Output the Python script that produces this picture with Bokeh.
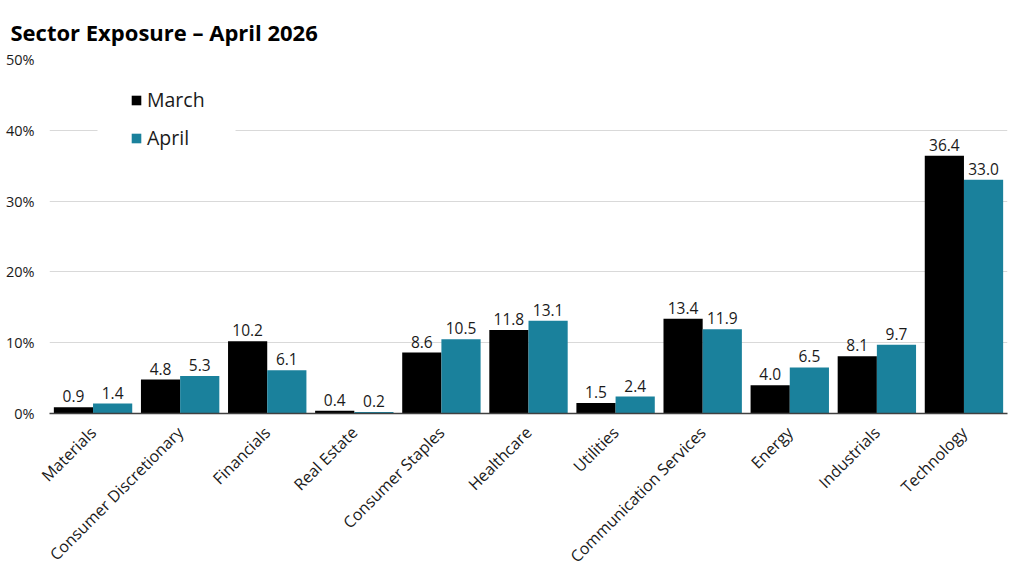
from bokeh.plotting import figure
from bokeh.models import ColumnDataSource, FactorRange, PrintfTickFormatter, Legend, LegendItem, FixedTicker, BoxAnnotation
from bokeh.transform import dodge
from bokeh.core.properties import value
from bokeh.embed import file_html
from bokeh.resources import INLINE
import math

sectors = ["Materials", "Consumer Discretionary", "Financials", "Real Estate",
           "Consumer Staples", "Healthcare", "Utilities", "Communication Services",
           "Energy", "Industrials", "Technology"]
march = [0.9, 4.8, 10.2, 0.4, 8.6, 11.8, 1.5, 13.4, 4.0, 8.1, 36.4]
april = [1.4, 5.3, 6.1, 0.2, 10.5, 13.1, 2.4, 11.9, 6.5, 9.7, 33.0]
y_ticks = [0, 10, 20, 30, 40, 50]
title_text = "Sector Exposure \u2013 April 2026"

FONT = "Open Sans"
MARCH_C = "#000000"
APRIL_C = "#1a819c"

src = ColumnDataSource(dict(
    x=sectors, march=march, april=april,
    march_lbl=[f"{v:.1f}" for v in march],
    april_lbl=[f"{v:.1f}" for v in april],
))

p = figure(x_range=FactorRange(*sectors, range_padding=0), y_range=(0, 50),
           width=1017, height=578, output_backend="svg", toolbar_location=None,
           title=title_text)
p.min_border_left = 49
p.min_border_right = 10
p.min_border_top = 59
p.min_border_bottom = 165
p.outline_line_color = None

p.title.text_font = FONT
p.title.text_font_style = "bold"
p.title.text_font_size = "22px"
p.title.text_color = "#000000"
p.title.offset = -39
p.title.standoff = 21
p.title.vertical_align = "top"

r1 = p.vbar(x=dodge("x", -0.225, range=p.x_range), top="march", width=0.45,
            source=src, fill_color=MARCH_C, line_color=None)
r2 = p.vbar(x=dodge("x", 0.225, range=p.x_range), top="april", width=0.45,
            source=src, fill_color=APRIL_C, line_color=None)

p.text(x=dodge("x", -0.225, range=p.x_range), y="march", text="march_lbl", source=src,
       text_align="center", text_baseline="bottom", y_offset=-5,
       text_font=value(FONT), text_font_size="15.5px", text_color="#1a1a1a")
p.text(x=dodge("x", 0.225, range=p.x_range), y="april", text="april_lbl", source=src,
       text_align="center", text_baseline="bottom", y_offset=-5,
       text_font=value(FONT), text_font_size="15.5px", text_color="#1a1a1a")

p.yaxis.ticker = FixedTicker(ticks=y_ticks)
p.yaxis.formatter = PrintfTickFormatter(format="%d%%")
p.yaxis.axis_line_color = None
p.yaxis.major_tick_line_color = None
p.yaxis.minor_tick_line_color = None
p.yaxis.major_label_text_font = FONT
p.yaxis.major_label_text_font_size = "14.5px"
p.yaxis.major_label_text_color = "#1a1a1a"
p.yaxis.major_label_standoff = 9

p.xaxis.axis_line_color = "#404040"
p.xaxis.axis_line_width = 1.5
p.xaxis.major_tick_line_color = None
p.xaxis.minor_tick_line_color = None
p.xaxis.major_label_orientation = math.pi / 4
p.xaxis.major_label_text_font = FONT
p.xaxis.major_label_text_font_size = "16px"
p.xaxis.major_label_text_color = "#1a1a1a"
p.xaxis.major_label_standoff = 10

p.xgrid.grid_line_color = None
p.ygrid.grid_line_color = "#d9d9d9"
p.ygrid.grid_line_width = 1

# white area behind the legend (breaks the 40% gridline as in the original)
p.add_layout(BoxAnnotation(left=0.551, right=2.136, bottom=37.0, top=46.0,
                           fill_color="white", fill_alpha=1.0, line_color=None,
                           level="underlay"))

legend = Legend(items=[LegendItem(label="March", renderers=[r1]),
                       LegendItem(label="April", renderers=[r2])],
                location=(81, 262))
legend.label_text_font = FONT
legend.label_text_font_size = "19.5px"
legend.label_text_color = "#1a1a1a"
legend.glyph_width = 12
legend.glyph_height = 12
legend.label_standoff = 5
legend.spacing = 11
legend.padding = 33
legend.margin = 0
legend.border_line_color = None
legend.background_fill_color = "white"
legend.background_fill_alpha = 1.0
legend.label_height = 22
p.add_layout(legend, "center")

open("out.html", "w").write(file_html(p, INLINE))
